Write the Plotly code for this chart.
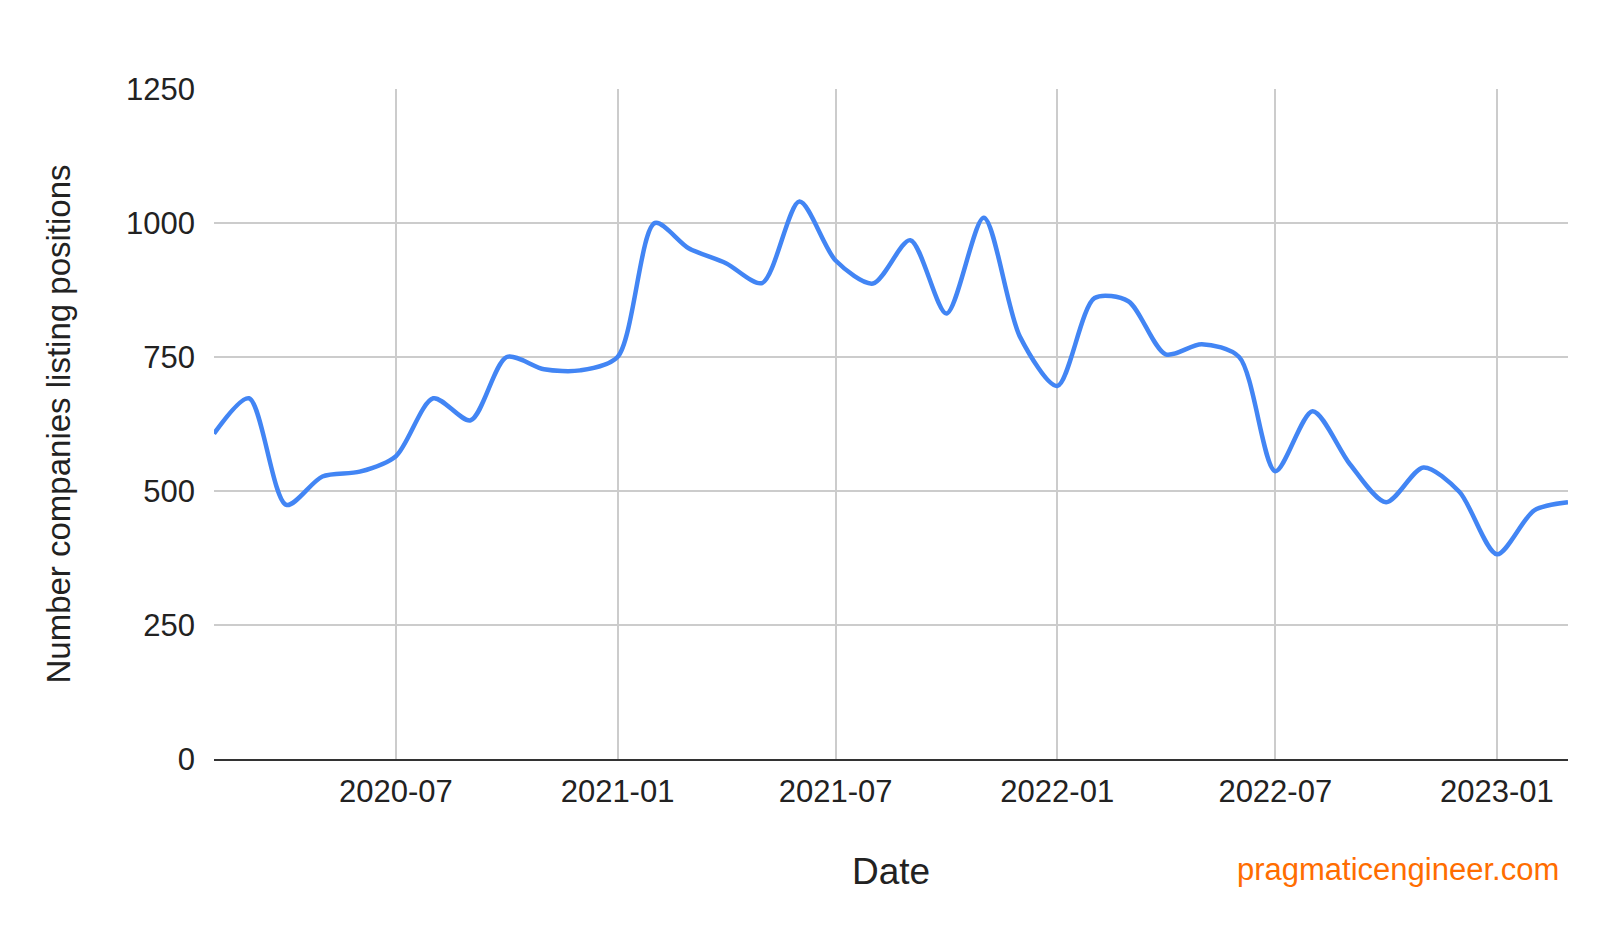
import pandas as pd
import plotly.graph_objects as go

dates = pd.date_range("2020-02-01", "2023-03-01", freq="MS")
companies = [607, 673, 474, 527, 536, 565, 673, 632, 750, 727, 725, 750,
             1000, 953, 925, 888, 1040, 930, 887, 968, 831, 1010, 788, 696,
             860, 854, 755, 774, 750, 537, 649, 550, 479, 544, 498, 382,
             464, 479]
tick_dates = ["2020-07-01", "2021-01-01", "2021-07-01", "2022-01-01", "2022-07-01", "2023-01-01"]
tick_labels = ["2020-07", "2021-01", "2021-07", "2022-01", "2022-07", "2023-01"]

fig = go.Figure()
fig.add_trace(go.Scatter(x=dates, y=companies, mode="lines",
                         line=dict(color="#4285f4", width=4.5, shape="spline", smoothing=0.8)))

fig.update_layout(
    width=1584, height=916,
    plot_bgcolor="white", paper_bgcolor="white",
    margin=dict(l=206, r=24, t=81, b=165),
    font=dict(family="Liberation Sans, Arial", size=31, color="#222"),
    showlegend=False,
    xaxis=dict(title=dict(text="Date", standoff=50), range=["2020-02-01", "2023-03-01"],
               tickvals=tick_dates, ticktext=tick_labels,
               showgrid=True, gridcolor="#cccccc", gridwidth=2,
               showline=True, linecolor="#333", linewidth=2, ticks="outside",
               ticklen=4, tickcolor="rgba(0,0,0,0)"),
    yaxis=dict(title=dict(text="Number companies listing positions", standoff=45,
                          font=dict(size=33)),
               range=[0, 1250], tickvals=[0, 250, 500, 750, 1000, 1250],
               showgrid=True, gridcolor="#cccccc", gridwidth=2, zeroline=False,
               ticklabelstandoff=18),
)
fig.add_annotation(text="pragmaticengineer.com", xref="paper", yref="paper",
                   x=0.995, y=-0.165, xanchor="right", yanchor="middle", showarrow=False,
                   font=dict(color="#ff6d00", size=31))
fig.write_html("out.html")
